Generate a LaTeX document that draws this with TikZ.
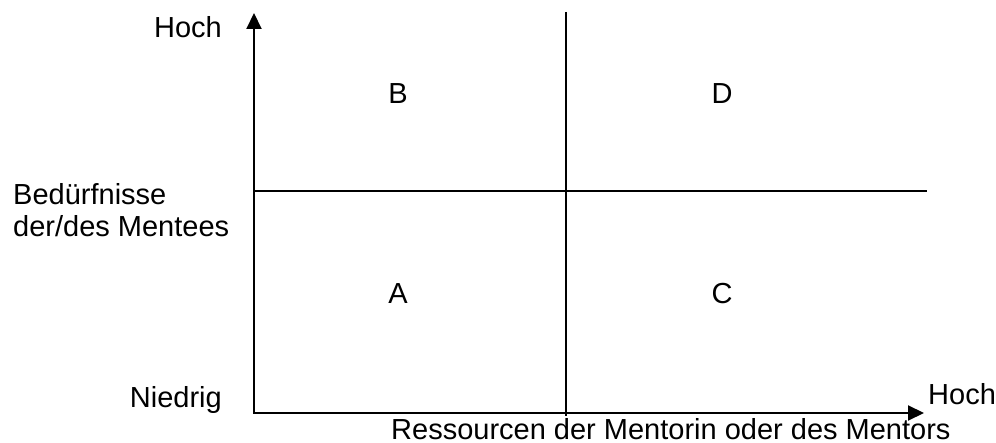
\documentclass[tikz,border=0pt]{standalone}
\usepackage{fontspec}
\setmainfont{Liberation Sans}
\usetikzlibrary{arrows.meta}
\begin{document}
\begin{tikzpicture}[x=1pt,y=-1pt,
  axis/.style={line width=2pt,-{Triangle[length=16pt,width=15pt]}},
  grid/.style={line width=2pt},
  lbl/.style={inner sep=0pt,font=\fontsize{29}{32}\selectfont}]
\useasboundingbox (0,0) rectangle (996,443);
\coordinate (o) at (254,413);
\coordinate (ytop) at (254,13);
\coordinate (xend) at (924,413);
\coordinate (vt) at (566,12);
\coordinate (vb) at (566,416);
\coordinate (hl) at (254,191);
\coordinate (hr) at (927,191);
\draw[grid] (vt) -- (vb);
\draw[grid] (hl) -- (hr);
\draw[axis] ([yshift=1pt]o) -- (ytop);
\draw[axis] ([xshift=-1pt]o) -- (xend);
\node[lbl,anchor=base east] (hochy) at (222,38) {Hoch};
\node[lbl,anchor=base west] (bed1) at (13,205) {Bedürfnisse};
\node[lbl,anchor=base west] (bed2) at (13,237) {der/des Mentees};
\node[lbl,anchor=base east] (nied) at (222,407) {Niedrig};
\node[lbl,anchor=base west] (hochx) at (928,405) {Hoch};
\node[lbl,anchor=base west] (ress) at (391,439.5) {Ressourcen der Mentorin oder des Mentors};
\node[lbl,anchor=base] (B) at (398,104) {B};
\node[lbl,anchor=base] (D) at (722,104) {D};
\node[lbl,anchor=base] (A) at (398,304) {A};
\node[lbl,anchor=base] (C) at (722,304) {C};
\end{tikzpicture}
\end{document}
